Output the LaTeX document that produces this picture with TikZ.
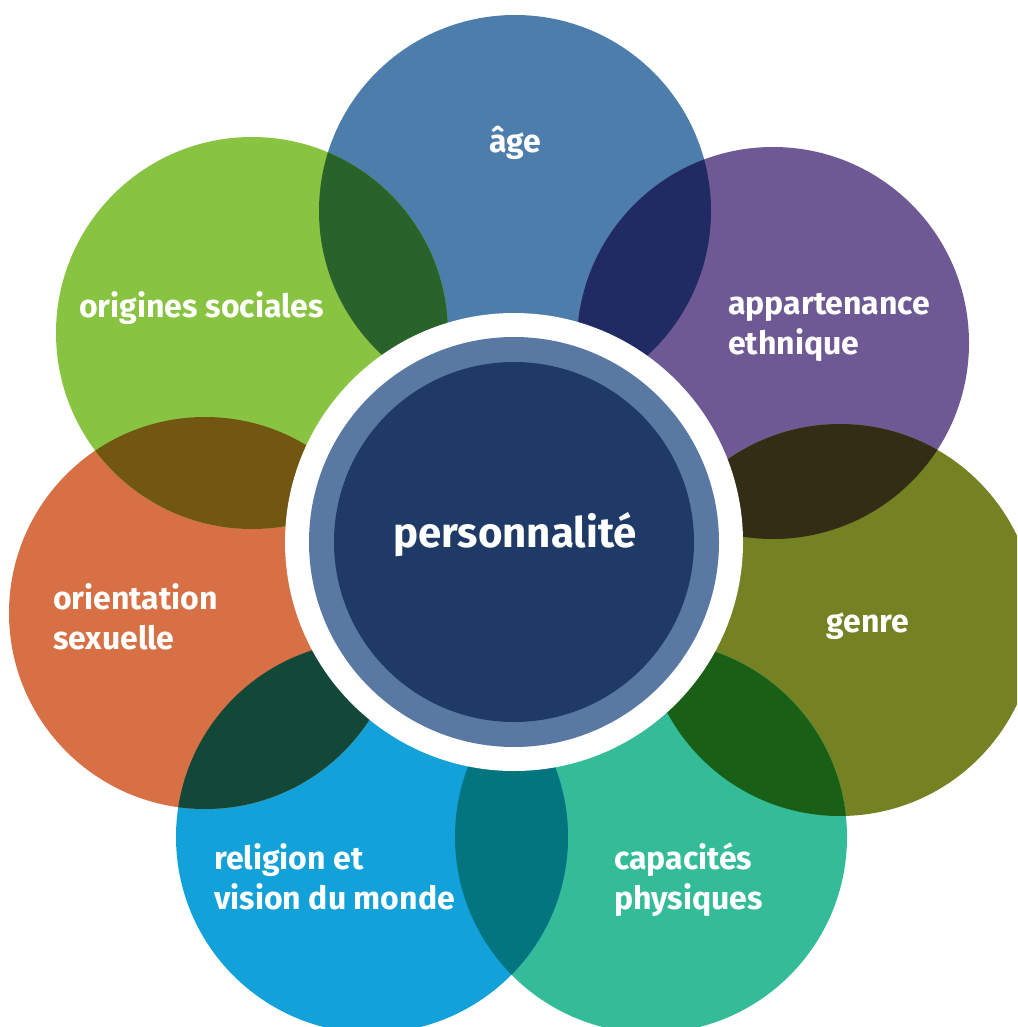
\documentclass[tikz,border=0pt]{standalone}
\usepackage{fontspec}
\setmainfont{Fira Sans}
\definecolor{cAge}{HTML}{4D7EAB}
\definecolor{cEth}{HTML}{6E5995}
\definecolor{cGen}{HTML}{748224}
\definecolor{cCap}{HTML}{34BC98}
\definecolor{cRel}{HTML}{13A1DA}
\definecolor{cOri}{HTML}{D77044}
\definecolor{cSoc}{HTML}{88C441}
\definecolor{xAgeSoc}{HTML}{29622B}
\definecolor{xAgeEth}{HTML}{212B63}
\definecolor{xEthGen}{HTML}{332D16}
\definecolor{xGenCap}{HTML}{196016}
\definecolor{xCapRel}{HTML}{03757F}
\definecolor{xRelOri}{HTML}{114838}
\definecolor{xOriSoc}{HTML}{725712}
\definecolor{cRing}{HTML}{5979A2}
\definecolor{cCore}{HTML}{1F3A67}
\begin{document}
\begin{tikzpicture}[x=1pt,y=-1pt,
  petal/.style={circle, minimum size=392pt, inner sep=0pt},
  lbl/.style={text=white, inner sep=0pt, anchor=base west, font=\bfseries\fontsize{32}{40}\selectfont},
]
\useasboundingbox (0,0) rectangle (1017,1027);
\clip (0,0) rectangle (1017,1027);
\fill[white] (0,0) rectangle (1017,1027);
% petals
\node[petal, fill=cAge] (age) at (515,211) {};
\node[petal, fill=cEth] (eth) at (773,343) {};
\node[petal, fill=cGen] (gen) at (840,620) {};
\node[petal, fill=cCap] (cap) at (651,837) {};
\node[petal, fill=cRel] (rel) at (372,837) {};
\node[petal, fill=cOri] (ori) at (205,613) {};
\node[petal, fill=cSoc] (soc) at (252,333) {};
% overlaps
\begin{scope}\clip (age.center) circle[radius=196pt];
  \fill[xAgeSoc] (soc.center) circle[radius=196pt];
  \fill[xAgeEth] (eth.center) circle[radius=196pt];\end{scope}
\begin{scope}\clip (gen.center) circle[radius=196pt];
  \fill[xEthGen] (eth.center) circle[radius=196pt];
  \fill[xGenCap] (cap.center) circle[radius=196pt];\end{scope}
\begin{scope}\clip (rel.center) circle[radius=196pt];
  \fill[xCapRel] (cap.center) circle[radius=196pt];
  \fill[xRelOri] (ori.center) circle[radius=196pt];\end{scope}
\begin{scope}\clip (soc.center) circle[radius=196pt];
  \fill[xOriSoc] (ori.center) circle[radius=196pt];\end{scope}
% centre
\node[circle, fill=white, minimum size=458pt, inner sep=0pt] (halo) at (514,542) {};
\node[circle, fill=cRing, minimum size=410pt, inner sep=0pt] (ring) at (halo.center) {};
\node[circle, fill=cCore, minimum size=360pt, inner sep=0pt] (core) at (halo.center) {};
\node[text=white, inner sep=0pt, anchor=base, font=\bfseries\fontsize{42}{50}\selectfont] (tcore) at (515,547) {personnalité};
% labels
\node[lbl, anchor=base] (tage) at (515,153) {âge};
\node[lbl] (teth) at (728,314) {\vtop{\hbox{appartenance}\hbox{ethnique}}};
\node[lbl, anchor=base] (tgen) at (868,632) {genre};
\node[lbl] (tcap) at (614,869) {\vtop{\hbox{capacités}\hbox{physiques}}};
\node[lbl] (trel) at (214,869) {\vtop{\hbox{religion et}\hbox{vision du monde}}};
\node[lbl] (tori) at (53,609) {\vtop{\hbox{orientation}\hbox{sexuelle}}};
\node[lbl] (tsoc) at (79,317) {origines sociales};
\end{tikzpicture}
\end{document}
